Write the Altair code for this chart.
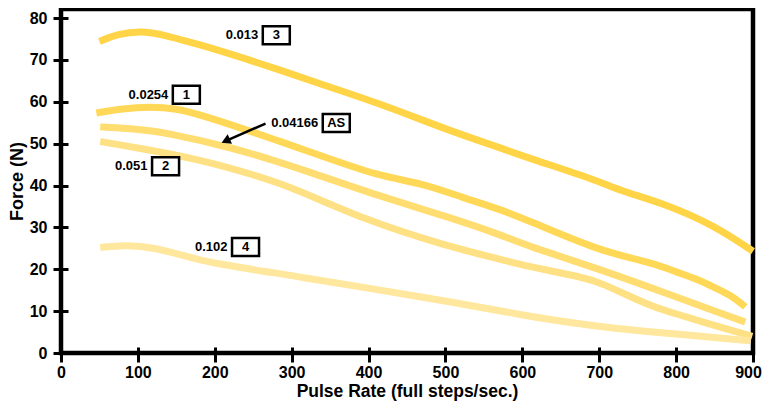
import altair as alt
import pandas as pd

# ---- data ----
series_names = ["0.013", "0.0254", "0.04166", "0.051", "0.102"]

s3_x = [50, 73, 107, 137, 181, 224, 285, 328, 419, 502, 571, 606, 701, 723, 788, 850, 900]
s3_y = [74.4, 76.2, 77.0, 75.8, 73.6, 71.2, 67.6, 64.8, 59.3, 53.3, 49.0, 46.7, 41.0, 39.0, 35.5, 30.4, 24.3]

s1_x = [46, 80, 116, 150, 181, 246, 285, 328, 415, 467, 523, 571, 606, 701, 766, 801, 831, 853, 874, 890]
s1_y = [57.3, 58.4, 58.8, 58.4, 56.9, 53.0, 50.5, 47.8, 42.1, 40.7, 37.1, 34.3, 31.8, 24.3, 21.7, 19.3, 17.4, 15.3, 13.5, 11.0]

sAS_x = [51, 100, 137, 224, 285, 311, 415, 502, 571, 606, 701, 788, 853, 890]
sAS_y = [54.0, 53.5, 52.6, 49.0, 45.5, 44.0, 37.4, 32.6, 28.3, 25.6, 20.0, 14.2, 9.8, 7.4]

s2_x = [51, 100, 181, 250, 302, 393, 502, 571, 606, 679, 701, 766, 801, 853, 899]
s2_y = [50.5, 49.0, 46.2, 42.6, 39.5, 31.9, 25.5, 22.4, 20.7, 18.1, 16.9, 11.2, 9.3, 6.4, 4.0]

s4_x = [51, 81, 120, 181, 233, 268, 285, 311, 393, 502, 606, 701, 801, 897]
s4_y = [25.2, 25.8, 25.4, 22.0, 20.5, 19.3, 19.0, 18.1, 15.7, 12.4, 8.8, 6.2, 4.5, 2.9]

series_x = [s3_x, s1_x, sAS_x, s2_x, s4_x]
series_y = [s3_y, s1_y, sAS_y, s2_y, s4_y]
series_colors = ["#FFD447", "#FFD857", "#FFDD70", "#FFE185", "#FFE79D"]

# annotation boxes
box_labels = ["3", "1", "AS", "2", "4"]
box_x = [280, 163, 358, 136, 240]
box_y = [75.9, 61.7, 54.9, 44.6, 25.3]

# arrow (start, head)
arrow_x = [266]
arrow_y = [54.8]
arrow_x2 = [216]
arrow_y2 = [50.8]

x_ticks = list(range(0, 901, 100))
y_ticks = list(range(0, 81, 10))

rows = []
for name, xs, ys in zip(series_names, series_x, series_y):
    for xv, yv in zip(xs, ys):
        rows.append({"series": name, "x": xv, "y": yv})
df = pd.DataFrame(rows)

ann = pd.DataFrame({"text": series_names, "box": box_labels, "x": box_x, "y": box_y})
arr = pd.DataFrame({"x": arrow_x, "y": arrow_y, "x2": arrow_x2, "y2": arrow_y2})

FONT = "Liberation Sans"
xscale = alt.Scale(domain=[0, 900], nice=False, zero=False)
yscale = alt.Scale(domain=[0, 82.15], nice=False)

xaxis = alt.Axis(values=x_ticks, offset=-6, tickSize=15, tickWidth=3, tickColor="black",
                 domain=False, grid=False, labelFont=FONT, labelFontSize=16, labelFontWeight="bold",
                 labelColor="black", labelPadding=2, labelFlush=False,
                 labelOffset={"condition": {"test": "datum.value == 900", "value": -5}, "value": 0},
                 title="Pulse Rate (full steps/sec.)", titleFont=FONT, titleFontSize=17.5,
                 titleFontWeight="bold", titleColor="black", titlePadding=2)
yaxis = alt.Axis(values=y_ticks, offset=-7, tickSize=15, tickWidth=3, tickColor="black",
                 domain=False, grid=False, labelFont=FONT, labelFontSize=16, labelFontWeight="bold",
                 labelColor="black", labelPadding=6, labelFlush=False,
                 title="Force (N)", titleFont=FONT, titleFontSize=18,
                 titleFontWeight="bold", titleColor="black", titlePadding=3)

lines = alt.Chart(df).mark_line(strokeWidth=7, interpolate="basis").encode(
    x=alt.X("x:Q", scale=xscale, axis=xaxis),
    y=alt.Y("y:Q", scale=yscale, axis=yaxis),
    color=alt.Color("series:N", scale=alt.Scale(domain=series_names, range=series_colors), legend=None),
    order=alt.Order("x:Q"),
)

labels = alt.Chart(ann).mark_text(font=FONT, fontSize=13, fontWeight="bold", align="right",
                                  baseline="middle", dx=-18, color="black").encode(
    x=alt.X("x:Q", scale=xscale), y=alt.Y("y:Q", scale=yscale), text="text:N")

boxes = alt.Chart(ann).mark_point(shape="M-1.5,-1L1.5,-1L1.5,1L-1.5,1Z", size=324, filled=False,
                                  stroke="black", strokeWidth=2.5, fill="white", fillOpacity=1,
                                  opacity=1).encode(
    x=alt.X("x:Q", scale=xscale), y=alt.Y("y:Q", scale=yscale))

box_text = alt.Chart(ann).mark_text(font=FONT, fontSize=13, fontWeight="bold", align="center",
                                    baseline="middle", color="black").encode(
    x=alt.X("x:Q", scale=xscale), y=alt.Y("y:Q", scale=yscale), text="box:N")

arrow_line = alt.Chart(arr).mark_rule(strokeWidth=2.5, color="black").encode(
    x=alt.X("x:Q", scale=xscale), y=alt.Y("y:Q", scale=yscale), x2="x2:Q", y2="y2:Q")

arrow_head = alt.Chart(arr).mark_point(shape="triangle", size=110, filled=True, color="black",
                                       angle=245.5, opacity=1).encode(
    x=alt.X("x2:Q", scale=xscale), y=alt.Y("y2:Q", scale=yscale))

chart = alt.layer(lines, labels, boxes, box_text, arrow_line, arrow_head).properties(
    width=692, height=344,
    background="white",
    autosize=alt.AutoSizeParams(type="none"),
    padding={"left": 53, "top": 1, "right": 9, "bottom": 49},
).configure_view(stroke="black", strokeWidth=4.5)

chart.save("out.html", embed_options={"renderer": "svg", "actions": False})
